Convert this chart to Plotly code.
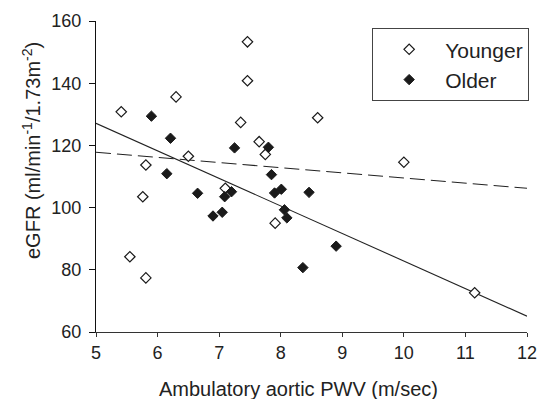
import plotly.graph_objects as go

# Data
younger_pwv = [5.41, 6.30, 5.81, 6.50, 7.35, 7.46, 7.46, 8.60, 7.65, 7.75,
               5.76, 5.55, 5.81, 7.10, 7.91, 10.00, 11.15]
younger_egfr = [130.8, 135.6, 113.7, 116.5, 127.4, 153.3, 140.8, 128.9, 121.2, 117.1,
                103.5, 84.2, 77.4, 106.2, 95.0, 114.6, 72.6]

older_pwv = [5.90, 6.21, 7.25, 6.15, 7.80, 7.85, 6.65, 6.90, 7.05, 7.09,
             7.20, 7.90, 8.01, 8.46, 8.06, 8.10, 8.90, 8.36]
older_egfr = [129.4, 122.3, 119.2, 110.9, 119.4, 110.6, 104.6, 97.3, 98.5, 103.5,
              105.1, 104.7, 105.9, 104.9, 99.3, 96.7, 87.6, 80.7]

# Regression line end points (x = 5 and x = 12)
fit_pwv = [5, 12]
dashed_fit_egfr = [117.8, 106.2]
solid_fit_egfr = [127.1, 65.1]

x_ticks = [5, 6, 7, 8, 9, 10, 11, 12]
y_ticks = [60, 80, 100, 120, 140, 160]

FONT = "Liberation Sans, Arial, sans-serif"
INK = "#1a1a1a"

fig = go.Figure()

fig.add_trace(go.Scatter(
    x=fit_pwv, y=dashed_fit_egfr, mode="lines", showlegend=False,
    line=dict(color="#222222", width=1.1, dash="15px,6px"), hoverinfo="skip"))
fig.add_trace(go.Scatter(
    x=fit_pwv, y=solid_fit_egfr, mode="lines", showlegend=False,
    line=dict(color="#222222", width=1.1), hoverinfo="skip"))

fig.add_trace(go.Scatter(
    x=younger_pwv, y=younger_egfr, mode="markers", name="Younger",
    marker=dict(symbol="diamond", size=8, color="white",
                line=dict(color=INK, width=1.2))))
fig.add_trace(go.Scatter(
    x=older_pwv, y=older_egfr, mode="markers", name="Older",
    marker=dict(symbol="diamond", size=8, color=INK,
                line=dict(color=INK, width=1))))

fig.update_layout(
    width=538, height=399,
    margin=dict(l=96, r=11, t=21, b=67, autoexpand=False),
    paper_bgcolor="white", plot_bgcolor="white",
    font=dict(family=FONT, color="#222222", size=18),
    legend=dict(
        x=1.005, xanchor="right", y=0.977, yanchor="top",
        bgcolor="white", bordercolor="#444444", borderwidth=1,
        font=dict(size=21, color="#222222", family=FONT),
        itemwidth=62, tracegroupgap=0,
    ),
    xaxis=dict(
        range=[5, 12], tickvals=x_ticks, ticktext=[str(v) for v in x_ticks],
        showgrid=False, zeroline=False, showline=True, linecolor="#333333", linewidth=1,
        ticks="outside", ticklen=4, tickcolor="#333333", automargin=False,
        tickfont=dict(size=18, color="#222222"),
    ),
    yaxis=dict(
        range=[60, 160], tickvals=y_ticks, ticktext=[str(v) for v in y_ticks],
        showgrid=False, zeroline=False, showline=True, linecolor="#111111", linewidth=1,
        ticks="outside", ticklen=6, tickcolor="#111111", ticklabelstandoff=4,
        automargin=False,
        tickfont=dict(size=18, color="#222222"),
    ),
    annotations=[
        dict(text="Ambulatory aortic PWV (m/sec)", xref="paper", yref="paper",
             x=(298.5 - 96) / 431, y=-(389 - 332) / 311, xanchor="center", yanchor="middle",
             showarrow=False, font=dict(size=20, color="#222222")),
        dict(text="eGFR (ml/min<sup>-1</sup>/1.73m<sup>-2</sup>)", xref="paper", yref="paper",
             x=-(96 - 31) / 431, y=(332 - 151) / 311, xanchor="center", yanchor="middle",
             textangle=-90, showarrow=False, font=dict(size=20, color="#222222")),
    ],
)

fig.write_html(
    "out.html",
    config={"displayModeBar": False},
    post_script="document.body.style.margin='0';document.body.style.overflow='hidden';",
)
